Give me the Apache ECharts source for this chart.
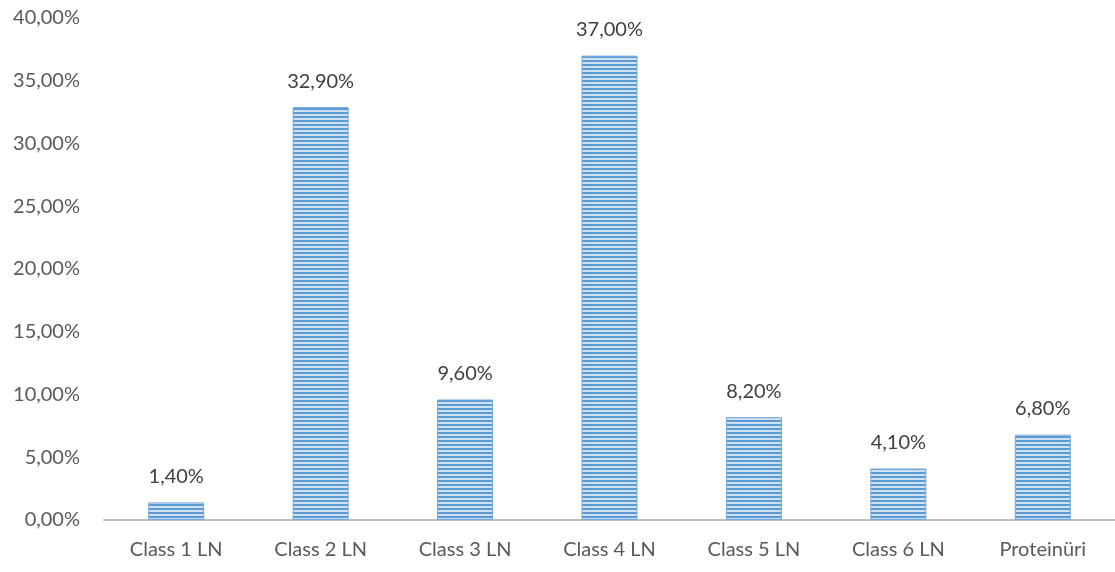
<!DOCTYPE html>
<html><head><meta charset="utf-8">
<script src="https://cdn.jsdelivr.net/npm/echarts@6/dist/echarts.min.js"></script>
<style>html,body{margin:0;padding:0;background:#fff}#c{width:1115px;height:572px}</style>
</head><body><div id="c"></div>
<script>
const categories = ['Class 1 LN','Class 2 LN','Class 3 LN','Class 4 LN','Class 5 LN','Class 6 LN','Proteinüri'];
const values = [1.4, 32.9, 9.6, 37.0, 8.2, 4.1, 6.8];

const pc = document.createElement('canvas');
pc.width = 8; pc.height = 4;
const ctx = pc.getContext('2d');
ctx.fillStyle = '#cfe0f3'; ctx.fillRect(0,0,8,4);
ctx.fillStyle = '#5b9bd5'; ctx.fillRect(0,0,8,2);

const fmt = v => v.toFixed(2).replace('.', ',') + '%';
const chart = echarts.init(document.getElementById('c'));
chart.setOption({
  animation:false,
  textStyle:{fontFamily:'Lato'},
  grid:{left:104, top:18, width:1014, height:502},
  xAxis:{type:'category', data:categories,
    axisLine:{lineStyle:{color:'#bfbfbf', width:2}}, axisTick:{show:false},
    axisLabel:{color:'#595959', fontSize:20, margin:20}},
  yAxis:{type:'value', min:0, max:40, interval:5, splitLine:{show:false},
    axisLine:{show:false}, axisTick:{show:false},
    axisLabel:{color:'#595959', fontSize:20, margin:24, formatter:v=>fmt(v)}},
  series:[{type:'bar', data:values, barWidth:56,
    itemStyle:{color:{image:pc, repeat:'repeat'}, borderColor:'#74a9dc', borderWidth:1},
    label:{show:true, position:'top', distance:16, color:'#404040', fontSize:20, formatter:p=>fmt(p.value)}}]
});
</script></body></html>
